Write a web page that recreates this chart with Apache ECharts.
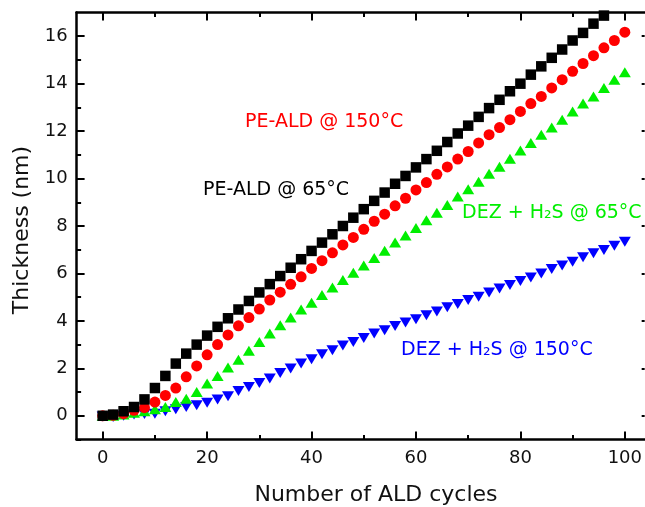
<!DOCTYPE html>
<html>
<head>
<meta charset="utf-8">
<script src="https://cdn.jsdelivr.net/npm/echarts@6/dist/echarts.min.js"></script>
<style>html,body{margin:0;padding:0;background:#fff}#c{width:645px;height:507px}</style>
</head>
<body>
<div id="c"></div>
<script>
const cycles = [0,2,4,6,8,10,12,14,16,18,20,22,24,26,28,30,32,34,36,38,40,42,44,46,48,50,52,54,56,58,60,62,64,66,68,70,72,74,76,78,80,82,84,86,88,90,92,94,96,98,100];
const peald65 = [0.0,0.05,0.19,0.37,0.69,1.17,1.68,2.2,2.62,3.0,3.38,3.75,4.11,4.48,4.84,5.2,5.55,5.89,6.24,6.6,6.95,7.3,7.65,8.0,8.35,8.71,9.06,9.41,9.78,10.11,10.47,10.82,11.17,11.54,11.9,12.23,12.6,12.97,13.32,13.68,14.0,14.38,14.73,15.09,15.44,15.82,16.14,16.53,16.87];
const peald150 = [0.0,0.02,0.09,0.23,0.34,0.58,0.86,1.17,1.64,2.1,2.57,3.0,3.41,3.79,4.14,4.5,4.88,5.21,5.54,5.86,6.21,6.54,6.87,7.2,7.52,7.86,8.2,8.5,8.85,9.17,9.52,9.83,10.18,10.49,10.82,11.14,11.5,11.85,12.15,12.48,12.83,13.16,13.46,13.82,14.17,14.52,14.85,15.18,15.51,15.82,16.17];
const dez65 = [0.0,0.0,0.05,0.13,0.19,0.27,0.37,0.58,0.72,1.0,1.36,1.68,2.03,2.36,2.74,3.11,3.47,3.82,4.14,4.48,4.76,5.09,5.41,5.72,6.03,6.33,6.65,6.96,7.3,7.6,7.92,8.24,8.56,8.89,9.24,9.55,9.87,10.2,10.5,10.83,11.18,11.5,11.85,12.15,12.48,12.83,13.16,13.46,13.82,14.17,14.48];
const dez150 = [-0.03,-0.05,0.0,0.05,0.08,0.09,0.19,0.27,0.37,0.44,0.55,0.69,0.82,1.04,1.21,1.38,1.57,1.8,1.99,2.2,2.38,2.59,2.76,2.96,3.11,3.28,3.47,3.61,3.78,3.93,4.07,4.24,4.4,4.57,4.71,4.88,5.02,5.2,5.37,5.51,5.68,5.83,6.0,6.19,6.33,6.49,6.68,6.85,6.99,7.17,7.34];
const xMajor = [0,20,40,60,80,100];
const xMinor = [10,30,50,70,90];
const yMajor = [0,2,4,6,8,10,12,14,16];
const yMinor = [-1,1,3,5,7,9,11,13,15];
const xTitle = 'Number of ALD cycles';
const yTitle = 'Thickness (nm)';
const labels = [
  {text:'PE-ALD @ 150°C', color:'#ff0000', x:245, y:122},
  {text:'PE-ALD @ 65°C', color:'#000000', x:203, y:190},
  {text:'DEZ + H₂S @ 65°C', color:'#00ee00', x:462, y:213},
  {text:'DEZ + H₂S @ 150°C', color:'#0000ff', x:401, y:350}
];

const FONT = 'DejaVu Sans';
const pairs = (ys) => ys.map((v,i) => [cycles[i], v]);
const lineStyle = {color:'#000', width:2.5};

function xAx(pos, ticks, len, main){
  return {
    type:'value', position:pos, min:-5, max:103.8, offset:0,
    axisLine:{show:main, onZero:false, lineStyle},
    splitLine:{show:false},
    axisTick:{show:true, inside:true, length:len, customValues:ticks, lineStyle:{color:'#000', width:2}},
    axisLabel:{show:main && pos==='bottom', customValues:ticks, margin:10, color:'#111', fontFamily:FONT, fontSize:18}
  };
}
function yAx(pos, ticks, len, main, showLine){
  return {
    type:'value', position:pos, min:-1, max:17, offset:0,
    axisLine:{show:showLine, onZero:false, lineStyle},
    splitLine:{show:false},
    axisTick:{show:true, inside:true, length:len, customValues:ticks, lineStyle:{color:'#000', width:2}},
    axisLabel:{show:main && pos==='left', customValues:ticks, margin:9, color:'#111', fontFamily:FONT, fontSize:18}
  };
}

const chart = echarts.init(document.getElementById('c'), null, {renderer:'canvas'});
chart.setOption({
  animation:false,
  backgroundColor:'#fff',
  grid:{left:76.6, top:12.5, width:568.4, height:427, containLabel:false},
  xAxis:[xAx('bottom', xMajor, 8, true), xAx('bottom', xMinor, 4.5, false), xAx('top', xMajor, 8, true), xAx('top', xMinor, 4.5, false)],
  yAxis:[yAx('left', yMajor, 8, true, true), yAx('left', yMinor, 4.5, false, false), yAx('right', yMajor, 3, true, false)],
  series:[
    {type:'scatter', name:'DEZ 150', data:pairs(dez150), symbol:'triangle', symbolRotate:180, symbolSize:[12,10], itemStyle:{color:'#0000ff', opacity:1}},
    {type:'scatter', name:'DEZ 65', data:pairs(dez65), symbol:'triangle', symbolSize:[12,10], itemStyle:{color:'#00ee00', opacity:1}},
    {type:'scatter', name:'PE 150', data:pairs(peald150), symbol:'circle', symbolSize:11, itemStyle:{color:'#ff0000', opacity:1}},
    {type:'scatter', name:'PE 65', data:pairs(peald65), symbol:'rect', symbolSize:10.5, itemStyle:{color:'#000000', opacity:1}}
  ],
  graphic: labels.map(l => ({
    type:'text', x:l.x, y:l.y, z:100,
    style:{text:l.text, fill:l.color, font:'19px "DejaVu Sans"', textAlign:'left', textVerticalAlign:'middle'}
  })).concat([
    {type:'text', x:376, y:495, z:100,
     style:{text:xTitle, fill:'#111', font:'22px "DejaVu Sans"', textAlign:'center', textVerticalAlign:'middle'}},
    {type:'text', x:22, y:230, rotation:Math.PI/2, z:100,
     style:{text:yTitle, fill:'#111', font:'22px "DejaVu Sans"', textAlign:'center', textVerticalAlign:'middle'}}
  ])
});
</script>
</body>
</html>
